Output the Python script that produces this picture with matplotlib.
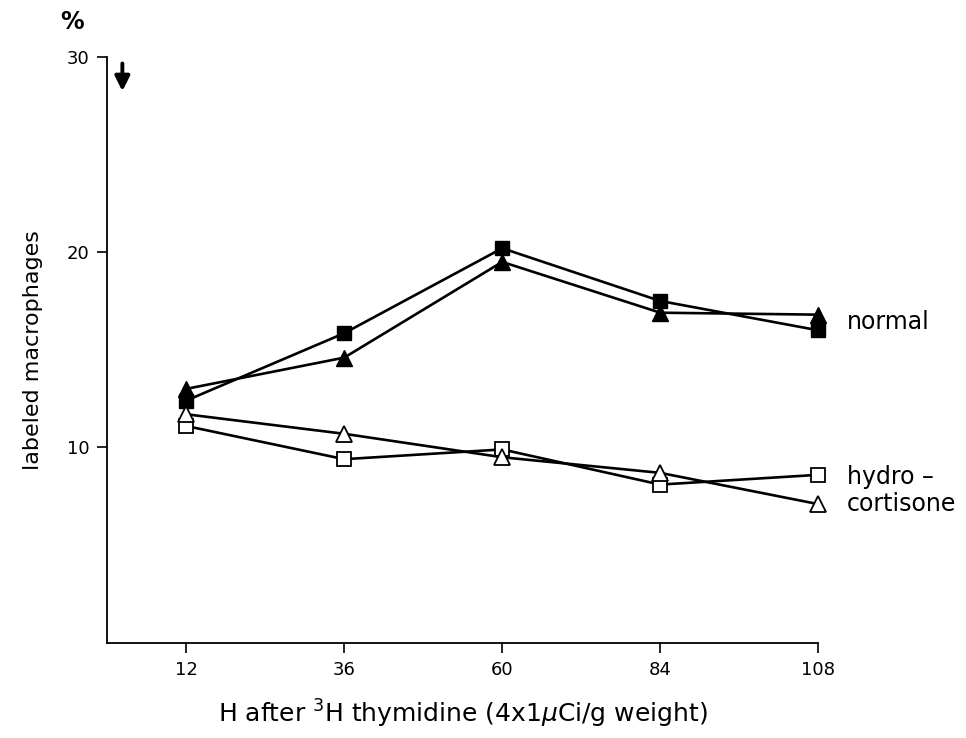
import matplotlib
matplotlib.use("Agg")
import matplotlib.pyplot as plt

# hours after 3H thymidine
hours = [12, 36, 60, 84, 108]

# labeled macrophages (%)
normal_sq = [12.4, 15.85, 20.2, 17.5, 16.0]
normal_tri = [13.0, 14.6, 19.5, 16.9, 16.8]
hydro_sq = [11.1, 9.4, 9.9, 8.1, 8.6]
hydro_tri = [11.7, 10.7, 9.5, 8.7, 7.1]

plt.rcParams['font.family'] = ['DejaVu Sans']

fig = plt.figure(figsize=(9.66, 7.38), dpi=100)
ax = fig.add_axes([0.111, 0.129, 0.736, 0.794])

lw = 1.9
ax.plot(hours, normal_sq, '-', color='black', lw=lw, marker='s', ms=10,
        mfc='black', mec='black')
ax.plot(hours, normal_tri, '-', color='black', lw=lw, marker='^', ms=11,
        mfc='black', mec='black')
ax.plot(hours, hydro_sq, '-', color='black', lw=lw, marker='s', ms=10,
        mfc='white', mec='black', mew=1.3)
ax.plot(hours, hydro_tri, '-', color='black', lw=lw, marker='^', ms=11,
        mfc='white', mec='black', mew=1.3)

ax.set_xlim(0, 108)
ax.set_ylim(0, 30)
ax.set_xticks(hours)
ax.set_yticks([10, 20, 30])
ax.tick_params(direction='out', length=7, width=1.2, labelsize=13, pad=6)
for s in ['top', 'right']:
    ax.spines[s].set_visible(False)
for s in ['left', 'bottom']:
    ax.spines[s].set_linewidth(1.3)

ax.set_ylabel("labeled macrophages", fontsize=16, labelpad=17)
ax.set_xlabel(r"H after $^{3}$H thymidine (4x1$\mu$Ci/g weight)", fontsize=18, labelpad=14)

ax.text(-0.05, 1.06, "%", transform=ax.transAxes, fontsize=17, fontweight='bold',
        ha='center', va='center')

# arrow at top-left
ax.annotate("", xy=(2.3, 28.1), xytext=(2.3, 29.8),
            arrowprops=dict(arrowstyle='-|>', color='black', lw=2.8, mutation_scale=22))

ax.text(1.04, 16.4, "normal", transform=ax.get_yaxis_transform(), fontsize=17, va='center')
ax.text(1.04, 8.5, "hydro \u2013", transform=ax.get_yaxis_transform(), fontsize=17, va='center')
ax.text(1.04, 7.1, "cortisone", transform=ax.get_yaxis_transform(), fontsize=17, va='center')

for l in ax.lines:
    l.set_clip_on(False)

fig.savefig("out.png", dpi=100)
